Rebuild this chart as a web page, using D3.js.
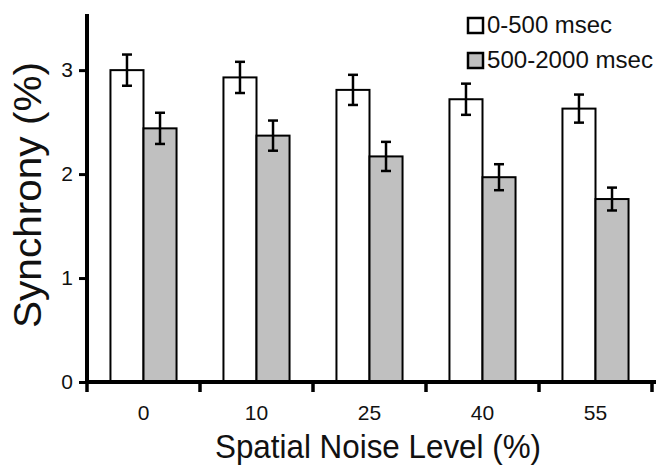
<!DOCTYPE html>
<html lang="en">
<head>
    <meta charset="UTF-8">
    <title>Synchrony vs Spatial Noise</title>
    <style>
        body {
            margin: 0;
            padding: 0;
            background-color: #fff;
        }
        svg text {
            font-family: 'Liberation Sans', Arial, Helvetica, sans-serif;
            fill: #111;
        }
    </style>
</head>
<body>
<div id="chart"></div>
<script src="https://d3js.org/d3.v7.min.js"></script>
<script>
    // noise levels (%)
    const categories = ["0", "10", "25", "40", "55"];
    const seriesNames = ["0-500 msec", "500-2000 msec"];
    const earlyValues = [3.00, 2.93, 2.81, 2.72, 2.63];
    const earlyErrors = [0.15, 0.15, 0.145, 0.15, 0.135];
    const lateValues = [2.44, 2.37, 2.17, 1.97, 1.76];
    const lateErrors = [0.15, 0.145, 0.14, 0.125, 0.11];
    const yTicks = [0, 1, 2, 3];
    const fills = ["#ffffff", "#c0c0c0"];

    const width = 656, height = 465;
    const plotLeft = 87, plotRight = 652, plotTop = 14, plotBottom = 382;

    const svg = d3.select("#chart")
        .append("svg")
        .attr("width", width)
        .attr("height", height);

    const x = d3.scaleBand()
        .domain(categories)
        .range([plotLeft, plotRight])
        .padding(0);

    const xSub = d3.scaleBand()
        .domain(seriesNames)
        .range([0, x.bandwidth()])
        .paddingInner(0)
        .paddingOuter(0.71);

    const y = d3.scaleLinear()
        .domain([0, 3.54])
        .range([plotBottom, plotTop]);

    const rows = categories.map(function (c, i) {
        return [
            {cat: c, s: seriesNames[0], v: earlyValues[i], e: earlyErrors[i], fill: fills[0]},
            {cat: c, s: seriesNames[1], v: lateValues[i], e: lateErrors[i], fill: fills[1]}
        ];
    }).flat();

    // bars
    svg.append("g")
        .selectAll("rect")
        .data(rows)
        .enter().append("rect")
        .attr("x", d => x(d.cat) + xSub(d.s))
        .attr("y", d => y(d.v))
        .attr("width", xSub.bandwidth())
        .attr("height", d => y(0) - y(d.v))
        .attr("fill", d => d.fill)
        .attr("stroke", "#000")
        .attr("stroke-width", 2);

    // error bars
    const err = svg.append("g")
        .attr("stroke", "#000")
        .attr("stroke-width", 2.5);
    rows.forEach(function (d) {
        const cx = x(d.cat) + xSub(d.s) + xSub.bandwidth() / 2;
        err.append("line")
            .attr("x1", cx).attr("x2", cx)
            .attr("y1", y(d.v + d.e)).attr("y2", y(d.v - d.e));
        [d.v + d.e, d.v - d.e].forEach(function (v) {
            err.append("line")
                .attr("x1", cx - 5).attr("x2", cx + 5)
                .attr("y1", y(v)).attr("y2", y(v));
        });
    });

    // y axis
    const yAxis = svg.append("g")
        .attr("transform", "translate(" + plotLeft + ",0)")
        .call(d3.axisLeft(y).tickValues(yTicks).tickSize(8).tickPadding(6).tickFormat(d3.format("d")));
    yAxis.select(".domain").remove();
    yAxis.selectAll(".tick line").attr("stroke", "#000").attr("stroke-width", 3);
    yAxis.selectAll(".tick text").style("font-size", "21px");
    svg.append("line")
        .attr("x1", plotLeft).attr("x2", plotLeft)
        .attr("y1", plotTop).attr("y2", plotBottom + 2)
        .attr("stroke", "#000").attr("stroke-width", 4);

    // x axis
    const xAxis = svg.append("g")
        .attr("transform", "translate(0," + plotBottom + ")")
        .call(d3.axisBottom(x).tickSize(0).tickPadding(23));
    xAxis.select(".domain").remove();
    xAxis.selectAll(".tick text").style("font-size", "21px");
    svg.append("line")
        .attr("x1", plotLeft - 2).attr("x2", width)
        .attr("y1", plotBottom).attr("y2", plotBottom)
        .attr("stroke", "#000").attr("stroke-width", 4);
    // separators between groups
    svg.append("g")
        .selectAll("line")
        .data(categories.concat(["end"]))
        .enter().append("line")
        .attr("x1", (d, i) => i < categories.length ? x(d) : x.range()[1])
        .attr("x2", (d, i) => i < categories.length ? x(d) : x.range()[1])
        .attr("y1", plotBottom)
        .attr("y2", plotBottom + 10)
        .attr("stroke", "#000")
        .attr("stroke-width", 3.5);

    // axis titles
    svg.append("text")
        .attr("x", 378)
        .attr("y", 458)
        .attr("text-anchor", "middle")
        .attr("textLength", 326)
        .attr("lengthAdjust", "spacingAndGlyphs")
        .style("font-size", "34px")
        .text("Spatial Noise Level (%)");

    svg.append("text")
        .attr("transform", "translate(41,195) rotate(-90)")
        .attr("text-anchor", "middle")
        .attr("textLength", 266)
        .attr("lengthAdjust", "spacingAndGlyphs")
        .style("font-size", "38px")
        .text("Synchrony (%)");

    // legend
    const legendWidths = [125, 166];
    const legend = svg.append("g");
    seriesNames.forEach(function (name, i) {
        const ly = 18 + i * 35;
        legend.append("rect")
            .attr("x", 468).attr("y", ly)
            .attr("width", 15).attr("height", 15)
            .attr("fill", fills[i])
            .attr("stroke", "#000")
            .attr("stroke-width", 2.5);
        legend.append("text")
            .attr("x", 487).attr("y", ly + 15)
            .attr("textLength", legendWidths[i])
            .attr("lengthAdjust", "spacingAndGlyphs")
            .style("font-size", "23px")
            .text(name);
    });
</script>
</body>
</html>
